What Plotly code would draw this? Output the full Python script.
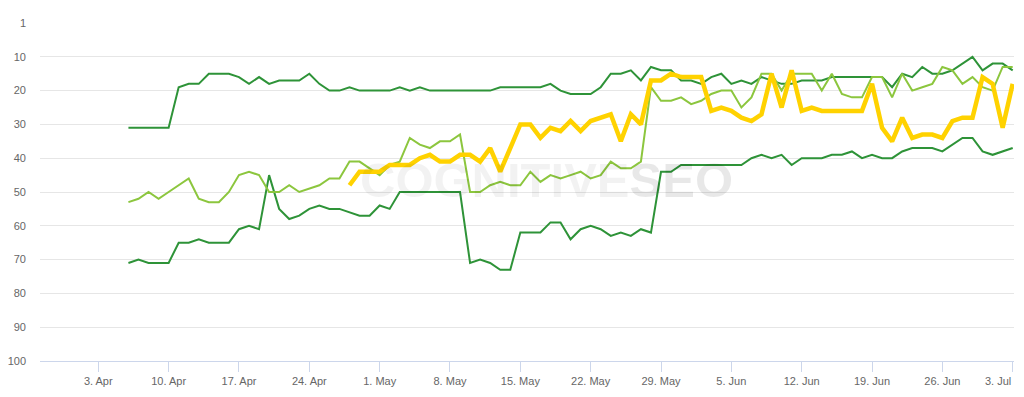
import pandas as pd
import plotly.graph_objects as go

dates = pd.date_range("2017-04-06", periods=89, freq="D")

series_a = [31,31,31,31,31,19,18,18,15,15,
            15,16,18,16,18,17,17,17,15,18,
            20,20,19,20,20,20,20,19,20,19,
            20,20,20,20,20,20,20,19,19,19,
            19,19,18,20,21,21,21,19,15,15,
            14,17,13,14,14,17,17,18,16,15,
            18,17,18,16,17,18,18,17,17,17,
            16,16,16,16,16,16,19,15,16,13,
            15,15,14,12,10,14,12,12,14]

series_b = [53,52,50,52,50,48,46,52,53,53,
            50,45,44,45,50,50,48,50,49,48,
            46,46,41,41,43,45,42,41,34,36,
            37,35,35,33,50,50,48,47,48,48,
            44,47,45,46,45,44,46,45,41,43,
            43,41,19,23,23,22,24,23,21,20,
            20,25,22,15,15,20,15,15,15,20,
            15,21,22,22,16,16,22,15,20,19,
            18,13,14,18,16,19,20,13,13]

series_c = [71,70,71,71,71,65,65,64,65,65,
            65,61,60,61,45,55,58,57,55,54,
            55,55,56,57,57,54,55,50,50,50,
            50,50,50,50,71,70,71,73,73,62,
            62,62,59,59,64,61,60,61,63,62,
            63,61,62,44,44,42,42,42,42,42,
            42,42,40,39,40,39,42,40,40,40,
            39,39,38,40,39,40,40,38,37,37,
            37,38,36,34,34,38,39,38,37]

series_d = [None]*22 + [48,44,44,44,42,42,42,40,
            39,41,41,39,39,41,37,44,37,30,
            30,34,31,32,29,32,29,28,27,35,
            27,30,17,17,15,16,16,16,26,25,
            26,28,29,27,15,25,14,26,25,26,
            26,26,26,26,18,31,35,28,34,33,
            33,34,29,28,28,16,18,31,18]

x_tickvals = ["2017-04-03","2017-04-10","2017-04-17","2017-04-24","2017-05-01",
              "2017-05-08","2017-05-15","2017-05-22","2017-05-29","2017-06-05",
              "2017-06-12","2017-06-19","2017-06-26","2017-07-03"]
x_ticktext = ["3. Apr","10. Apr","17. Apr","24. Apr","1. May","8. May","15. May",
              "22. May","29. May","5. Jun","12. Jun","19. Jun","26. Jun","3. Jul"]

y_tickvals = [0,10,20,30,40,50,60,70,80,90,100]
y_ticktext = ["1","10","20","30","40","50","60","70","80","90","100"]

DARK = "#2e9338"
LIGHT = "#8cc63e"
YELLOW = "#ffd200"

fig = go.Figure()
fig.add_trace(go.Scatter(x=dates, y=series_a, mode="lines", line=dict(color=DARK, width=2)))
fig.add_trace(go.Scatter(x=dates, y=series_c, mode="lines", line=dict(color=DARK, width=2)))
fig.add_trace(go.Scatter(x=dates, y=series_b, mode="lines", line=dict(color=LIGHT, width=2)))
fig.add_trace(go.Scatter(x=dates, y=series_d, mode="lines", line=dict(color=YELLOW, width=4.5)))

fig.add_annotation(
    x=0.52, y=0.535, xref="paper", yref="paper", showarrow=False,
    text="<span style='color:rgba(0,0,0,0.05)'>COGNITIVE</span><span style='color:rgba(0,0,0,0.09)'>SEO</span>",
    font=dict(family="Liberation Sans, Arial", size=49, weight="bold"),
)

# last tick label kept inside the chart, right-aligned to its tick (as in the original)
fig.add_annotation(
    x=x_tickvals[-1], y=0, xref="x", yref="paper", yshift=-12,
    xanchor="right", yanchor="top", showarrow=False,
    text=x_ticktext[-1], font=dict(size=11, color="#666666"),
)

fig.update_layout(
    width=1016, height=389,
    margin=dict(l=32, r=10, t=15, b=36, autoexpand=False),
    paper_bgcolor="white", plot_bgcolor="white",
    showlegend=False,
    font=dict(family="Liberation Sans, Arial, sans-serif", size=11, color="#666666"),
    xaxis=dict(
        type="date", automargin=False,
        range=["2017-03-28 04:47", "2017-07-03 03:06"],
        tickvals=x_tickvals, ticktext=x_ticktext[:-1] + [""],
        showgrid=False, zeroline=False,
        showline=True, linecolor="#ccd6eb", linewidth=1,
        ticks="outside", ticklen=10, tickcolor="#ccd6eb", tickwidth=1,
        tickfont=dict(size=11, color="#666666"),
    ),
    yaxis=dict(
        range=[100, 0], automargin=False,
        tickvals=y_tickvals, ticktext=y_ticktext,
        showgrid=True, gridcolor="#e6e6e6", gridwidth=1,
        zeroline=False, showline=False, ticks="",
        ticklabelstandoff=13,
        tickfont=dict(size=11, color="#666666"),
    ),
)

fig.write_html("out.html")
